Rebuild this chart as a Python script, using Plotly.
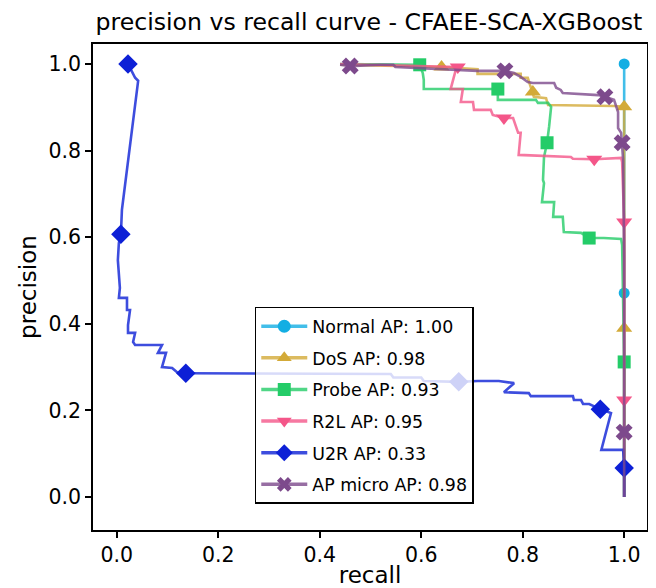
import plotly.graph_objects as go

# ---- data (recall, precision) ----
normal_recall = [1.0, 1.0, 1.0]
normal_precision = [1.0, 0.471, 0.0]
normal_mk_recall = [1.0, 1.0]
normal_mk_precision = [1.0, 0.471]

dos_recall = [0.44, 0.64, 0.711, 0.711, 0.796, 0.796, 0.810, 0.820, 0.822, 0.846, 0.850, 0.980, 1.0, 1.0, 1.0]
dos_precision = [0.998, 0.993, 0.988, 0.977, 0.977, 0.968, 0.968, 0.935, 0.924, 0.921, 0.905, 0.903, 0.901, 0.39, 0.0]
dos_mk_recall = [0.64, 0.820, 1.0, 1.0]
dos_mk_precision = [0.993, 0.935, 0.901, 0.39]

probe_recall = [0.44, 0.597, 0.603, 0.605, 0.605, 0.751, 0.751, 0.751, 0.826, 0.830, 0.850, 0.856,
                0.852, 0.848, 0.842, 0.840, 0.842, 0.838, 0.862, 0.860, 0.879, 0.881, 0.915, 0.931,
                0.960, 0.994, 0.996, 1.0, 1.0]
probe_precision = [1.0, 0.998, 0.979, 0.963, 0.942, 0.942, 0.928, 0.917, 0.917, 0.910, 0.910, 0.901,
                   0.855, 0.818, 0.785, 0.732, 0.725, 0.681, 0.681, 0.647, 0.647, 0.612, 0.610, 0.598,
                   0.598, 0.596, 0.582, 0.312, 0.0]
probe_mk_recall = [0.597, 0.751, 0.848, 0.931, 1.0]
probe_mk_precision = [0.998, 0.942, 0.818, 0.598, 0.312]

r2l_recall = [0.44, 0.672, 0.668, 0.658, 0.682, 0.678, 0.702, 0.704, 0.737, 0.741, 0.763, 0.781,
              0.791, 0.796, 0.792, 0.895, 0.899, 0.941, 0.994, 0.996, 1.0, 1.0, 1.0]
r2l_precision = [1.0, 0.993, 0.986, 0.942, 0.942, 0.912, 0.912, 0.894, 0.894, 0.882, 0.875, 0.875,
                 0.841, 0.841, 0.790, 0.785, 0.781, 0.780, 0.783, 0.774, 0.635, 0.224, 0.0]
r2l_mk_recall = [0.672, 0.763, 0.941, 1.0, 1.0]
r2l_mk_precision = [0.993, 0.875, 0.780, 0.635, 0.224]

u2r_recall = [0.022, 0.032, 0.036, 0.042, 0.010, 0.008, 0.004, 0.002, 0.004, 0.006, 0.004, 0.020,
              0.020, 0.026, 0.022, 0.022, 0.036, 0.032, 0.036, 0.089, 0.081, 0.097, 0.089, 0.109,
              0.121, 0.136, 0.540, 0.545, 0.600, 0.605, 0.674, 0.711, 0.753, 0.783, 0.763, 0.812,
              0.816, 0.899, 0.901, 0.915, 0.919, 0.931, 0.953, 0.974, 0.955, 0.998, 1.0, 1.0]
u2r_precision = [1.0, 0.979, 0.968, 0.961, 0.663, 0.607, 0.587, 0.547, 0.517, 0.483, 0.460, 0.460,
                 0.432, 0.432, 0.397, 0.379, 0.379, 0.358, 0.351, 0.351, 0.333, 0.333, 0.300, 0.298,
                 0.286, 0.286, 0.284, 0.276, 0.276, 0.268, 0.266, 0.268, 0.268, 0.263, 0.242, 0.240,
                 0.233, 0.233, 0.224, 0.224, 0.215, 0.215, 0.203, 0.194, 0.109, 0.109, 0.067, 0.0]
u2r_mk_recall = [0.022, 0.008, 0.136, 0.674, 0.953, 1.0]
u2r_mk_precision = [1.0, 0.607, 0.286, 0.266, 0.203, 0.067]

micro_recall = [0.44, 0.46, 0.520, 0.545, 0.549, 0.638, 0.711, 0.765, 0.783, 0.796, 0.810, 0.820,
                0.862, 0.866, 0.875, 0.879, 0.949, 0.962, 0.980, 0.988, 0.988, 0.994, 0.996, 0.998,
                1.0, 1.0, 1.0]
micro_precision = [0.998, 0.995, 0.998, 0.998, 0.993, 0.988, 0.984, 0.984, 0.979, 0.970, 0.958, 0.956,
                   0.956, 0.945, 0.940, 0.933, 0.928, 0.924, 0.917, 0.889, 0.852, 0.841, 0.818, 0.778,
                   0.554, 0.150, 0.0]
micro_mk_recall = [0.46, 0.765, 0.962, 0.996, 1.0]
micro_mk_precision = [0.995, 0.984, 0.924, 0.818, 0.150]

labels = ["Normal AP: 1.00", "DoS AP: 0.98", "Probe AP: 0.93", "R2L AP: 0.95", "U2R AP: 0.33", "AP micro AP: 0.98"]
colors = ["#13aee3", "#d3aa38", "#24cc68", "#f45689", "#0d20d6", "#7d4a8c"]
line_colors = ["rgba(19,174,227,0.8)", "rgba(211,170,56,0.8)", "rgba(36,204,104,0.8)",
               "rgba(244,86,137,0.8)", "rgba(13,32,214,0.8)", "rgba(125,74,140,0.8)"]
symbols = ["circle", "triangle-up", "square", "triangle-down", "diamond", "x"]
sizes = [11, 14, 13, 14, 15, 15]

series = [
    (normal_recall, normal_precision, normal_mk_recall, normal_mk_precision),
    (dos_recall, dos_precision, dos_mk_recall, dos_mk_precision),
    (probe_recall, probe_precision, probe_mk_recall, probe_mk_precision),
    (r2l_recall, r2l_precision, r2l_mk_recall, r2l_mk_precision),
    (u2r_recall, u2r_precision, u2r_mk_recall, u2r_mk_precision),
    (micro_recall, micro_precision, micro_mk_recall, micro_mk_precision),
]

FONT = "DejaVu Sans"
fig = go.Figure()
for i, (xr, yp, mx, my) in enumerate(series):
    fig.add_trace(go.Scatter(x=xr, y=yp, mode="lines", line=dict(color=line_colors[i], width=2.6),
                             showlegend=False, hoverinfo="skip"))
    fig.add_trace(go.Scatter(x=mx, y=my, mode="markers",
                             marker=dict(symbol=symbols[i], size=sizes[i], color=colors[i],
                                         line=dict(width=0)),
                             showlegend=False))
for i in range(len(labels)):
    fig.add_trace(go.Scatter(x=[None], y=[None], mode="lines+markers", name=labels[i],
                             legendgroup="g%d" % i,
                             line=dict(color=line_colors[i], width=3.5),
                             marker=dict(symbol=symbols[i], size=13, color=colors[i], line=dict(width=0))))

axis_common = dict(showline=True, linecolor="black", linewidth=1.5, mirror=True,
                   ticks="outside", ticklen=6, tickwidth=1.5, tickcolor="black",
                   showgrid=False, zeroline=False, tickformat=".1f", automargin=False,
                   tickfont=dict(size=20.5, color="black", family=FONT))
fig.update_xaxes(range=[-0.047, 1.045], tickvals=[0, 0.2, 0.4, 0.6, 0.8, 1.0],
                 title=dict(text="recall", font=dict(size=23, color="black", family=FONT), standoff=2),
                 **axis_common)
fig.update_yaxes(range=[-0.076, 1.046], tickvals=[0, 0.2, 0.4, 0.6, 0.8, 1.0],
                 title=dict(text="precision", font=dict(size=23, color="black", family=FONT), standoff=5),
                 **axis_common)

# page body has an 8px default margin: figure sits at (8, 8)
fig.update_layout(
    template="none",
    width=640, height=580,
    margin=dict(l=85, r=1, t=36, b=58, autoexpand=False),
    paper_bgcolor="white", plot_bgcolor="white",
    font=dict(family=FONT, color="black"),
    title=dict(text="precision vs recall curve - CFAEE-SCA-XGBoost", x=0.564, xanchor="center",
               y=1 - 14 / 580, yanchor="middle", font=dict(size=23.6, color="black", family=FONT)),
    legend=dict(x=0.292, y=0.459, xanchor="left", yanchor="top",
                bgcolor="rgba(255,255,255,0.8)", bordercolor="black", borderwidth=1.5,
                font=dict(size=17.4, color="black", family=FONT), tracegroupgap=6,
                itemwidth=46),
)

fig.write_html("out.html")
